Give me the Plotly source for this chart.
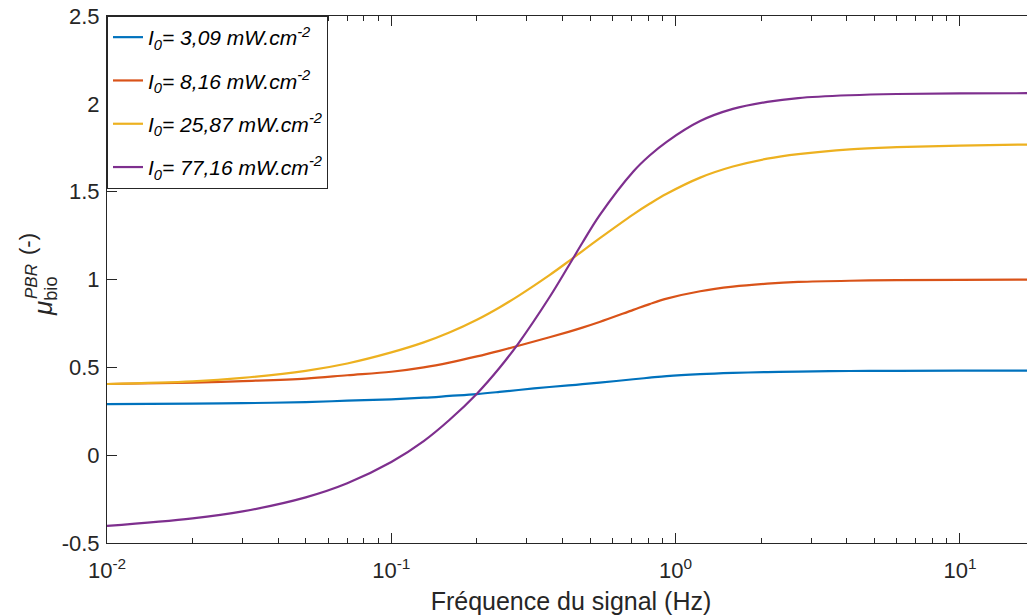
import plotly.graph_objects as go

# Frequency grid (Hz)
freq = [0.01, 0.02, 0.03, 0.05, 0.07, 0.1, 0.13, 0.16, 0.2, 0.24, 0.28, 0.36, 0.42,
        0.47, 0.54, 0.71, 0.81, 0.93, 1.22, 1.59, 2.1, 2.7, 4.1, 6.0, 10.0, 20.0]

mu_309 = [0.291, 0.293, 0.296, 0.302, 0.310, 0.318, 0.327, 0.337, 0.348, 0.360, 0.371, 0.388, 0.397,
          0.404, 0.413, 0.432, 0.441, 0.450, 0.461, 0.468, 0.473, 0.476, 0.479, 0.480, 0.481, 0.481]
mu_816 = [0.405, 0.413, 0.422, 0.436, 0.455, 0.475, 0.500, 0.527, 0.562, 0.594, 0.623, 0.671, 0.702,
          0.726, 0.758, 0.827, 0.860, 0.891, 0.933, 0.959, 0.976, 0.986, 0.993, 0.996, 0.998, 1.000]
mu_2587 = [0.405, 0.420, 0.440, 0.480, 0.522, 0.585, 0.642, 0.698, 0.771, 0.841, 0.907, 1.025, 1.103,
           1.162, 1.234, 1.371, 1.431, 1.488, 1.580, 1.643, 1.688, 1.714, 1.741, 1.753, 1.762, 1.770]
mu_7716 = [-0.403, -0.360, -0.320, -0.240, -0.160, -0.039, 0.080, 0.200, 0.350, 0.496, 0.637, 0.899, 1.077,
           1.209, 1.365, 1.615, 1.706, 1.784, 1.902, 1.971, 2.011, 2.033, 2.049, 2.056, 2.059, 2.061]

series_names = ["<i>I<sub>0</sub>= 3,09 mW.cm<sup>-2</sup></i>",
                "<i>I<sub>0</sub>= 8,16 mW.cm<sup>-2</sup></i>",
                "<i>I<sub>0</sub>= 25,87 mW.cm<sup>-2</sup></i>",
                "<i>I<sub>0</sub>= 77,16 mW.cm<sup>-2</sup></i>"]
series_values = [mu_309, mu_816, mu_2587, mu_7716]
colors = ["#0072BD", "#D95319", "#EDB120", "#7E2F8E"]

x_tickvals = [0.01, 0.1, 1, 10]
x_ticktext = ["10<sup>-2</sup>", "10<sup>-1</sup>", "10<sup>0</sup>", "10<sup>1</sup>"]
x_minor = [k * 10.0 ** d for d in (-2, -1, 0, 1) for k in range(2, 10)]
y_tickvals = [-0.5, 0, 0.5, 1, 1.5, 2, 2.5]
y_ticktext = ["-0.5", "0", "0.5", "1", "1.5", "2", "2.5"]

FONT = "Liberation Sans, Arial, Helvetica, sans-serif"
AX = "#262626"

# page body has an 8px margin: figure drawn at (8, 8)
OFF = 8
W, H = 1035 - OFF, 615 - OFF
PL, PT, PB = 107, 16, 543  # plot area edges in page pixels
PW, PH = 1035 - PL, PB - PT

fig = go.Figure()
for i, (name, vals, col) in enumerate(zip(series_names, series_values, colors)):
    fig.add_trace(go.Scatter(x=freq, y=vals, mode="lines", name=name, legendgroup=f"g{i}",
                             line=dict(color=col, width=2.2, shape="spline", smoothing=1.0)))

fig.update_layout(
    width=W, height=H,
    margin=dict(l=PL - OFF, r=0, t=PT - OFF, b=615 - PB, autoexpand=False),
    paper_bgcolor="white", plot_bgcolor="white",
    font=dict(family=FONT, color=AX, size=22),
    showlegend=True,
    legend=dict(x=0, y=1, xanchor="left", yanchor="top",
                bordercolor=AX, borderwidth=1, bgcolor="white",
                font=dict(size=21, color="#000000"), itemwidth=30,
                tracegroupgap=13),
)

fig.update_xaxes(
    type="log", range=[-2, 1.264], automargin=False,
    tickmode="array", tickvals=x_tickvals, ticktext=x_ticktext,
    ticks="inside", ticklen=10, tickwidth=1, tickcolor=AX,
    minor=dict(ticks="inside", ticklen=5, tickwidth=1, tickcolor=AX, tickvals=x_minor, showgrid=False),
    showline=True, linecolor=AX, linewidth=1, mirror="ticks",
    showgrid=False, zeroline=False, ticklabelstandoff=8, ticklabeloverflow="allow",
    tickfont=dict(size=22, color=AX),
    title=dict(text="Fréquence du signal (Hz)", font=dict(size=25, color=AX), standoff=12),
)
fig.update_yaxes(
    range=[-0.5, 2.5], automargin=False,
    tickmode="array", tickvals=y_tickvals, ticktext=y_ticktext,
    ticks="inside", ticklen=10, tickwidth=1, tickcolor=AX,
    showline=True, linecolor=AX, linewidth=1, mirror=False,
    showgrid=False, zeroline=False, ticklabelstandoff=2, ticklabeloverflow="allow",
    tickfont=dict(size=22, color=AX),
)

# y-axis label: mu with stacked sub/superscript
fig.add_annotation(text="<i>μ</i><sub>bio</sub>", textangle=-90, showarrow=False,
                   xref="paper", yref="paper", x=(44 - PL) / PW, y=(PB - 296) / PH,
                   xanchor="center", yanchor="middle", font=dict(size=26, color=AX))
fig.add_annotation(text="<i>PBR</i>", textangle=-90, showarrow=False,
                   xref="paper", yref="paper", x=(31 - PL) / PW, y=(PB - 282) / PH,
                   xanchor="center", yanchor="middle", font=dict(size=17, color=AX))
fig.add_annotation(text="(-)", textangle=-90, showarrow=False,
                   xref="paper", yref="paper", x=(27 - PL) / PW, y=(PB - 244) / PH,
                   xanchor="center", yanchor="middle", font=dict(size=22, color=AX))

fig.write_html("out.html")
